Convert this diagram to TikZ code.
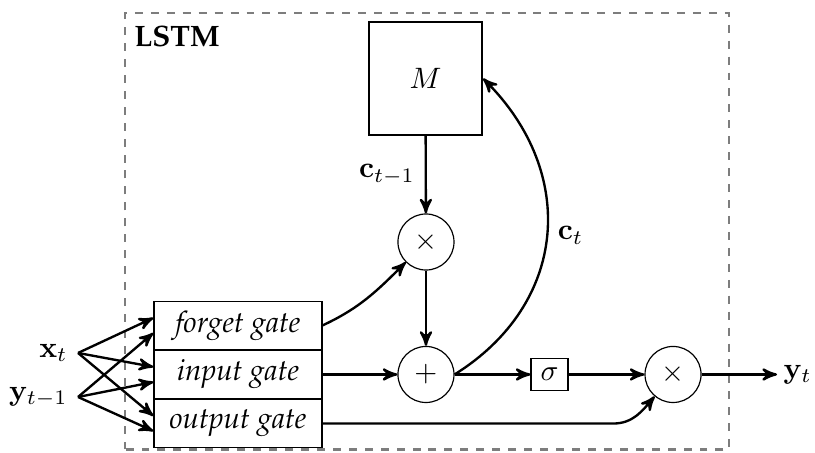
\documentclass[tikz,border=0pt]{standalone}
\usepackage{amsmath, amssymb}
\usepackage{tikz}
\usetikzlibrary{shapes,arrows,positioning,calc}
\definecolor{FrameGray}{RGB}{125,125,125}
\newcommand{\palfont}{\fontencoding{OT1}\fontfamily{ppl}\selectfont}

\begin{document}
\begin{tikzpicture}[>=stealth',
  gate/.style={draw, thin, minimum width=2cm, minimum height=0.57cm, inner sep=0pt, font=\palfont\itshape},
  op/.style={draw, thin, circle, minimum size=0.667cm, inner sep=0pt},
  conn/.style={->, thick}]
\useasboundingbox (0,0) rectangle (9.702,5.381);

% Frame
\draw[FrameGray, line width=0.9pt, dash pattern=on 2.7pt off 2.7pt] (1.488,0.03) rectangle (8.679,5.226);
\node[font=\palfont\bfseries] (lstm) at (2.107,4.952) {LSTM};

% Memory and operations
\node[draw, thick, minimum size=1.345cm, inner sep=0pt] (mem) at (5.065,4.446) {$M$};
\node[op] (fmul) at (5.071,2.5) {$\times$};
\node[op] (add) at (5.071,0.923) {$+$};
\node[draw, thin, minimum width=0.44cm, minimum height=0.38cm, inner sep=0pt] (sig) at (6.542,0.923) {$\sigma$};
\node[op] (omul) at (8.012,0.923) {$\times$};
\node[anchor=west, inner sep=2pt] (yt) at (9.25,0.923) {$\mathbf{y}_t$};

% Gates
\node[gate] (input) at (2.833,0.923) {input gate};
\node[gate, above=0pt of input] (forget) {forget gate};
\node[gate, below=0pt of input] (output) {output gate};

% Inputs
\node[anchor=east] (xt) at (0.929,1.179) {$\mathbf{x}_t$};
\node[anchor=east] (yprev) at (0.929,0.655) {$\mathbf{y}_{t-1}$};
\foreach \g in {forget,input,output} {
  \draw[conn] (xt.east) -- ($(\g.west)+(0,0.09)$);
  \draw[conn] (yprev.east) -- ($(\g.west)+(0,-0.09)$);
}

% Connections
\draw[conn] (mem) -- node[left] {$\mathbf{c}_{t-1}$} (fmul);
\draw[conn] (fmul) -- (add);
\draw[conn] (forget.east) to[out=25,in=225] (fmul.225);
\draw[conn] (input) -- (add);
\draw[conn] (add) -- (sig);
\draw[conn] (sig) -- (omul);
\draw[conn] (omul) -- (yt);
\draw[conn] (add.east) to[out=32,in=-45,looseness=1.15] node[right] {$\mathbf{c}_t$} (mem.east);
\draw[conn] (output.east) -- ++(3.46,0) to[out=0,in=230] (omul.230);
\end{tikzpicture}
\end{document}
